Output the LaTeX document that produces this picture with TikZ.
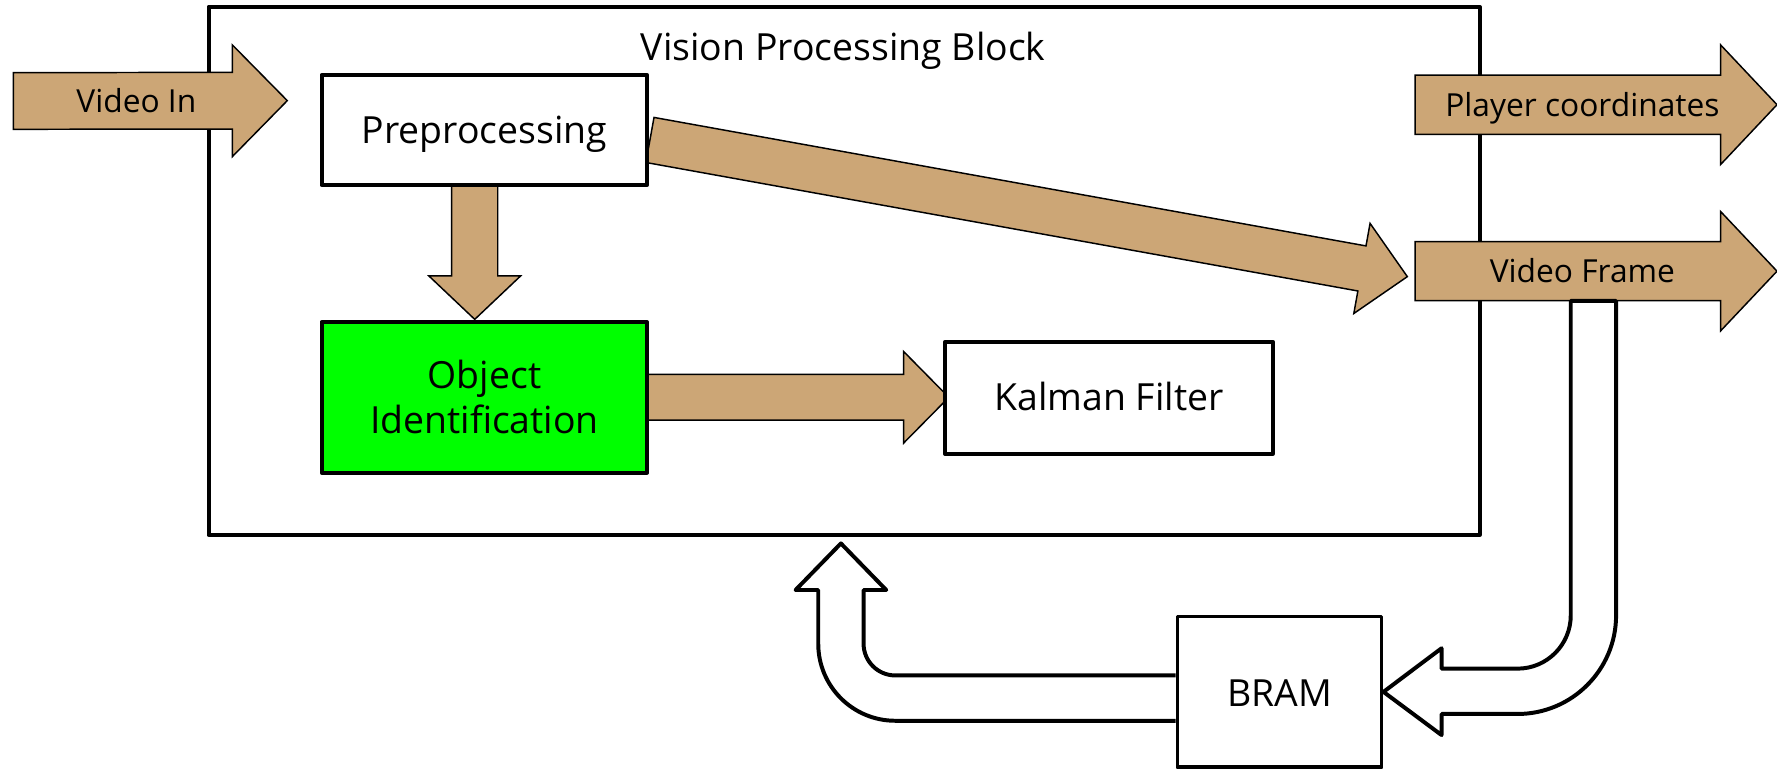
\documentclass[tikz,border=0pt]{standalone}
\usepackage{fontspec}
\setmainfont{Open Sans}
\usetikzlibrary{calc}
\definecolor{arrowtan}{RGB}{204,166,118}
\definecolor{boxgreen}{RGB}{0,255,0}
\newcommand\fatarrow[5]{% start, end, body half width, head half width, head length
  \coordinate (fah) at ($(#2)!#5!(#1)$);
  \filldraw[fat] ($(#1)!#3!90:(#2)$) -- ($(fah)!#3!90:(#2)$) -- ($(fah)!#4!90:(#2)$) -- (#2)
    -- ($(fah)!#4!-90:(#2)$) -- ($(fah)!#3!-90:(#2)$) -- ($(#1)!#3!-90:(#2)$) -- cycle;
}
\tikzset{
  frame/.style={draw, line width=3.5pt, rectangle, inner sep=0pt, outer sep=0pt, line join=round},
  blk/.style={frame, fill=white},
  fat/.style={fill=arrowtan, draw=black, line width=1.3pt, line join=miter},
  hollow/.style={fill=white, draw=black, line width=3.5pt, line join=round},
  big/.style={font=\fontsize{33}{39.6}\selectfont, inner sep=0pt, anchor=base},
  small/.style={font=\fontsize{28}{33.6}\selectfont, inner sep=0pt, anchor=base},
}
\begin{document}
\begin{tikzpicture}[x=1pt,y=1pt]
\useasboundingbox (0,0) rectangle (1568,-679);

% outer block
\node[frame, minimum width=1121.6pt, minimum height=466pt] (vpb) at (744.8,-239) {};
\node[big] (title) at (744,-53.5) {Vision Processing Block};

% coordinates for internal arrows
\coordinate (dnS) at (418.9,-163.4);
\coordinate (dnE) at (418.9,-281.8);
\coordinate (kaS) at (571,-350.5);
\coordinate (kaE) at (837.2,-350.6);
\coordinate (diS) at (573.5,-123.5);
\coordinate (diE) at (1241.8,-244.1);
\fatarrow{dnS}{dnE}{20.3pt}{40.45pt}{38.3pt}
\fatarrow{kaS}{kaE}{20.15pt}{40.45pt}{39.9pt}
\fatarrow{diS}{diE}{20.2pt}{40.4pt}{40.7pt}

% boxes
\node[blk, minimum width=287pt, minimum height=97.4pt] (pre) at (427.35,-114.7) {};
\node[big] (pretxt) at (427.35,-126.8) {Preprocessing};
\node[frame, fill=boxgreen, minimum width=287pt, minimum height=133pt] (obj) at (427.35,-350.6) {};
\node[big] (objtxt1) at (427.5,-342.6) {Object};
\node[big] (objtxt2) at (427.5,-382.4) {Identification};
\node[blk, minimum width=289pt, minimum height=99pt] (kal) at (978.5,-351) {};
\node[big] (kaltxt) at (978.5,-362.4) {Kalman Filter};

% external tan arrows
\coordinate (viS) at (11.8,-89.1);
\coordinate (viE) at (253.5,-88.8);
\fatarrow{viS}{viE}{25pt}{49.3pt}{48.5pt}
\node[small] (vin) at (120.3,-99.2) {Video In};
\coordinate (plS) at (1248.6,-92.4);
\coordinate (plE) at (1568,-92.4);
\fatarrow{plS}{plE}{26.2pt}{52.7pt}{49.7pt}
\node[small] (pl) at (1396.3,-102.8) {Player coordinates};
\coordinate (vfS) at (1248.6,-239.3);
\coordinate (vfE) at (1568,-239.3);
\fatarrow{vfS}{vfE}{26pt}{52.6pt}{49.7pt}
\node[small] (vf) at (1396.3,-249.3) {Video Frame};

% BRAM
\node[blk, minimum width=180pt, minimum height=133pt] (bram) at (1129,-610.5) {};
\node[big] (bramtxt) at (1129,-623) {BRAM};

% hollow arrow: Video Frame -> BRAM
\coordinate (vfout) at (1406,-265.5);
\filldraw[hollow] (vfout) ++(-20,0) -- ++(40,0) -- (1426,-543)
  arc[start angle=0, end angle=-90, radius=87] -- (1272,-630) -- (1272,-648.6)
  -- ($(bram.east)+(1.75,0)$) -- (1272,-572) -- (1272,-590) -- (1339,-590)
  arc[start angle=-90, end angle=0, radius=47] -- cycle;

% hollow arrow: BRAM -> Vision Processing Block
\coordinate (uptip) at (742,-479.5);
\filldraw[hollow] ($(bram.west |- 0,-596)+(-1.75,0)$) -- (790,-596)
  arc[start angle=270, end angle=180, radius=28] -- (762,-520.6) -- (782,-520.6)
  -- (uptip) -- (702,-520.6) -- (722,-520.6) -- (722,-568)
  arc[start angle=180, end angle=270, radius=68] -- ($(bram.west |- 0,-636)+(-1.75,0)$);
\end{tikzpicture}
\end{document}
